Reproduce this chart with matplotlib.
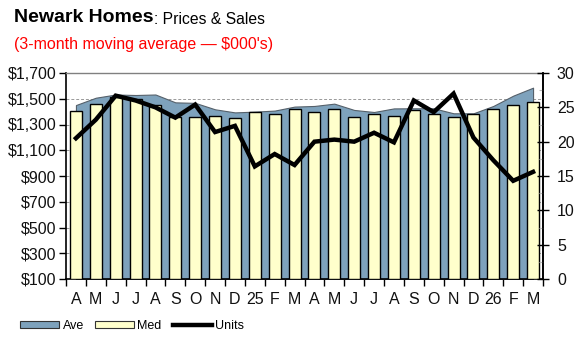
import numpy as np
import matplotlib.pyplot as plt
from matplotlib.ticker import MultipleLocator, FixedLocator, NullFormatter
from matplotlib.patches import Patch
from matplotlib.lines import Line2D

plt.rcParams['font.family'] = ['Liberation Sans', 'DejaVu Sans']

months = ['A', 'M', 'J', 'J', 'A', 'S', 'O', 'N', 'D', '25', 'F', 'M',
          'A', 'M', 'J', 'J', 'A', 'S', 'O', 'N', 'D', '26', 'F', 'M']
ave = [1451, 1508, 1533, 1529, 1533, 1472, 1468, 1418, 1394, 1400, 1408, 1439,
       1444, 1462, 1413, 1397, 1425, 1426, 1426, 1387, 1387, 1444, 1524, 1586]
med = [1405, 1459, 1512, 1496, 1449, 1361, 1356, 1364, 1348, 1394, 1379, 1418,
       1394, 1418, 1356, 1379, 1364, 1410, 1379, 1356, 1379, 1418, 1449, 1472]
units = [20.5, 23.2, 26.7, 26.0, 25.0, 23.5, 25.4, 21.4, 22.3, 16.4, 18.2, 16.6,
         20.0, 20.3, 20.0, 21.3, 19.9, 26.0, 24.3, 27.0, 20.6, 17.3, 14.3, 15.6]
price_ticks = [100, 300, 500, 700, 900, 1100, 1300, 1500, 1700]

AVE_COLOR = '#7ea2bc'
MED_COLOR = '#ffffcc'

x = np.arange(len(months))

fig = plt.figure(figsize=(5.77, 3.44), dpi=100)
ax = fig.add_axes([66/577, 1-279/344, 477/577, 206/344])

# average price as an area, median price as bars on top
ax.fill_between(x, 100, ave, color=AVE_COLOR, edgecolor='#55606a', linewidth=0.8, zorder=2)
ax.bar(x, [m - 100 for m in med], bottom=100, width=0.6, color=MED_COLOR,
       edgecolor='black', linewidth=1.0, zorder=3)

ax.set_xlim(-0.5, len(months) - 0.5)
ax.set_ylim(100, 1700)
ax.yaxis.set_major_locator(FixedLocator(price_ticks))
ax.set_yticklabels(['${:,.0f}'.format(v) for v in price_ticks])
ax.grid(axis='y', color='#999999', linestyle=(0, (3, 2)), linewidth=0.7, zorder=1)
ax.set_axisbelow(True)

ax.xaxis.set_major_locator(FixedLocator(np.arange(-0.5, len(months), 1)))
ax.xaxis.set_major_formatter(NullFormatter())
ax.xaxis.set_minor_locator(FixedLocator(x))
ax.set_xticklabels(months, minor=True)
ax.tick_params(axis='x', which='major', length=5, width=1, direction='out')
ax.tick_params(axis='x', which='minor', length=0, pad=9, labelsize=11.5, labelcolor='#111111')
ax.tick_params(axis='y', length=5, width=1, direction='out', pad=2, labelsize=11.5,
               labelcolor='#111111')

for s in ['left', 'bottom', 'right']:
    ax.spines[s].set_linewidth(1.2)
ax.spines['top'].set_color('#808080')
ax.spines['top'].set_linewidth(1.0)

# units sold on the right axis
ax2 = ax.twinx()
ax2.plot(x, units, color='black', linewidth=3.2, solid_joinstyle='miter', zorder=5)
ax2.set_ylim(0, 30)
ax2.yaxis.set_major_locator(MultipleLocator(5))
ax2.yaxis.set_minor_locator(MultipleLocator(2.5))
ax2.tick_params(axis='y', which='major', length=8, width=1, direction='inout', pad=6,
                labelsize=11.5, labelcolor='#111111')
ax2.tick_params(axis='y', which='minor', length=3, width=0.8, direction='in', color='#bbbbbb')
ax2.spines['right'].set_linewidth(1.2)
ax2.spines['top'].set_visible(False)
ax2.spines['left'].set_visible(False)
ax2.spines['bottom'].set_visible(False)

# titles
t1 = fig.text(14/577, 1-18/344, 'Newark Homes', fontsize=14, fontweight='bold',
              va='center', ha='left')
renderer = fig.canvas.get_renderer()
bb = t1.get_window_extent(renderer)
fig.text(bb.x1/577 + 1/577, 1-19/344, ': Prices & Sales', fontsize=11.3, va='center', ha='left')
fig.text(14/577, 1-44/344, "(3-month moving average \u2014 $000's)", fontsize=11.5,
         color='red', va='center', ha='left')

handles = [Patch(facecolor=AVE_COLOR, edgecolor='#333333', linewidth=0.8),
           Patch(facecolor=MED_COLOR, edgecolor='#333333', linewidth=0.8),
           Line2D([], [], color='black', linewidth=3.2)]
fig.legend(handles, ['Ave', 'Med', 'Units'], loc='center left',
           bbox_to_anchor=(20/577, 1-326/344), ncol=3, frameon=False, fontsize=9,
           handlelength=3.1, handleheight=0.5, handletextpad=0.3, columnspacing=0.9,
           borderpad=0, borderaxespad=0)

fig.savefig('out.png', dpi=100)
